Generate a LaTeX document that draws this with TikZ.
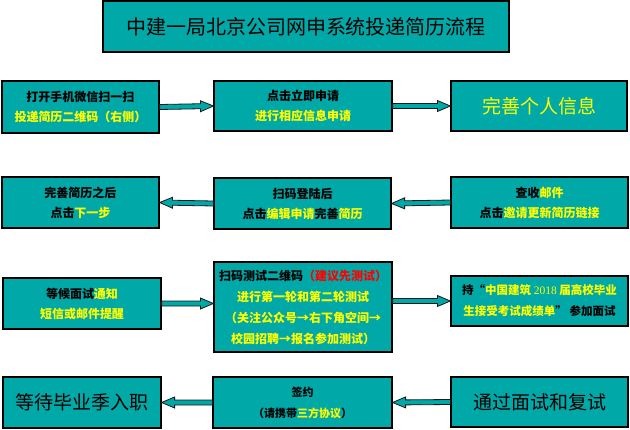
\documentclass[tikz,border=0pt]{standalone}
\usepackage{fontspec}
\setmainfont{Noto Sans CJK SC}
\newfontfamily\numfont{Liberation Serif}
\usetikzlibrary{calc}
\definecolor{boxteal}{RGB}{0,168,168}
\definecolor{darkline}{RGB}{25,25,25}
\definecolor{hiyellow}{RGB}{255,255,0}
\newcommand{\hl}[1]{\textcolor{hiyellow}{#1}}
% block arrow from #1 to #2 (tip at #2)
\newcommand{\blockarrow}[2]{%
  \draw[barrow] ($(#1)+(0,-2.5)$) -- ($(#2)!13pt!(#1)+(0,-2.5)$)
    -- ($(#2)!13pt!(#1)+(0,-5.5)$) -- (#2)
    -- ($(#2)!13pt!(#1)+(0,5.5)$) -- ($(#2)!13pt!(#1)+(0,2.5)$)
    -- ($(#1)+(0,2.5)$) -- cycle;}

\begin{document}
\begin{tikzpicture}[
  x=1pt, y=-1pt,
  flowbox/.style={draw=black, line width=1.2pt, fill=boxteal, align=center,
    inner sep=0pt, font=\bfseries\fontsize{12}{20}\selectfont},
  bigtext/.style={font=\fontsize{19}{22}\selectfont},
  barrow/.style={draw=darkline, line width=0.8pt, fill=boxteal}
  ]
  \useasboundingbox (0,0) rectangle (630,429);

  \node[flowbox, minimum width=406pt, minimum height=51pt,
    font=\fontsize{20}{24}\selectfont] (title) at (306,26.5)
    {中建一局北京公司网申系统投递简历流程};

  % row 1
  \node[flowbox, minimum width=157pt, minimum height=52pt] (b11) at (80.5,107)
    {打开手机微信扫一扫\\ \hl{投递简历二维码（右侧）}};
  \node[flowbox, minimum width=178pt, minimum height=50pt] (b12) at (303,106)
    {点击立即申请\\ \hl{进行相应信息申请}};
  \node[flowbox, bigtext, minimum width=176pt, minimum height=50pt] (b13) at (539,106)
    {\hl{完善个人信息}};

  % row 2
  \node[flowbox, minimum width=157pt, minimum height=51pt] (b21) at (80.5,202.5)
    {完善简历之后\\ 点击\hl{下一步}};
  \node[flowbox, minimum width=177pt, minimum height=51pt] (b22) at (302.5,203.5)
    {扫码登陆后\\ 点击\hl{编辑申请}完善\hl{简历}};
  \node[flowbox, minimum width=177pt, minimum height=51pt] (b23) at (539.5,202.5)
    {查收\hl{邮件}\\ 点击\hl{邀请更新简历链接}};

  % row 3
  \node[flowbox, minimum width=158pt, minimum height=51pt] (b31) at (82,303.5)
    {等候面试\hl{通知}\\ \hl{短信或邮件提醒}};
  \node[flowbox, minimum width=178pt, minimum height=90pt,
    font=\bfseries\fontsize{12}{21}\selectfont] (b32) at (303,307)
    {扫码测试二维码\textcolor{red}{（建议先测试）}\\ \hl{进行第一轮和第二轮测试}\\
     \hl{（关注公众号→右下角空间→}\\ \hl{校园招聘→报名参加测试）}};
  \node[flowbox, minimum width=177pt, minimum height=50pt,
    font=\bfseries\fontsize{11.5}{21}\selectfont] (b33) at (539.5,301)
    {持“\hl{中国建筑 {\numfont\mdseries 2018} 届高校毕业}\\ \hl{生接受考试成绩单}” 参加面试};

  % row 4
  \node[flowbox, bigtext, minimum width=158pt, minimum height=51pt] (b41) at (82,402.5)
    {等待毕业季入职};
  \node[flowbox, minimum width=179pt, minimum height=51pt,
    font=\bfseries\fontsize{11}{21}\selectfont] (b42) at (302.5,402.5)
    {签约\\ （请携带\hl{三方协议}）};
  \node[flowbox, bigtext, minimum width=177pt, minimum height=50pt] (b43) at (539.5,402)
    {通过面试和复试};

  \coordinate (a32) at (b32.east |- b33.west);

  \blockarrow{b11.east}{b12.west}
  \blockarrow{b12.east}{b13.west}
  \blockarrow{b23.west}{b22.east}
  \blockarrow{b22.west}{b21.east}
  \blockarrow{b31.east}{b32.west |- b31.east}
  \blockarrow{a32}{b33.west}
  \blockarrow{b43.west}{b42.east}
  \blockarrow{b42.west}{b41.east}
\end{tikzpicture}
\end{document}
